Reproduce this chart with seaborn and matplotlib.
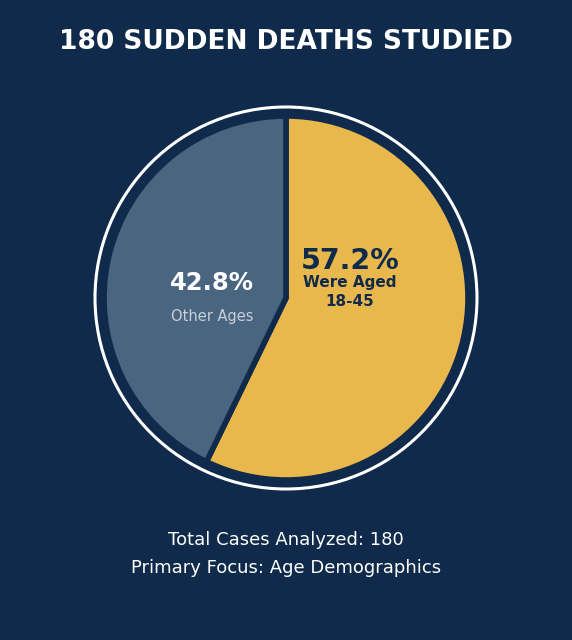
import matplotlib
matplotlib.use("Agg")
import matplotlib.pyplot as plt
import seaborn as sns
from matplotlib.patches import Circle

sns.set_theme(style="white")
plt.rcParams['font.family'] = ['DejaVu Sans']

labels = ["Were Aged 18-45", "Other Ages"]
shares = [57.2, 42.8]
colors = ["#e8b84c", "#4a6580"]
bg = "#0f2a4a"

fig = plt.figure(figsize=(5.72, 6.4), dpi=100, facecolor=bg)
ax = fig.add_axes([0, 0, 1, 1])
ax.set_facecolor(bg)

ax.add_patch(Circle((286, 298), 191, fill=False, ec="white", lw=2.2))
# y axis is inverted below, so counterclock=True draws clockwise on screen
ax.pie(shares, colors=colors, startangle=-90, counterclock=True,
       center=(286, 298), radius=182,
       wedgeprops=dict(edgecolor=bg, linewidth=4))
ax.set_xlim(0, 572)
ax.set_ylim(640, 0)
ax.set_aspect("equal")
ax.axis("off")

ax.text(286, 42, "180 SUDDEN DEATHS STUDIED", color="white", fontsize=19,
        fontweight="bold", ha="center", va="center")
ax.text(350, 261, f"{shares[0]}%", color=bg, fontsize=20.5, fontweight="bold",
        ha="center", va="center")
ax.text(350, 282, "Were Aged", color=bg, fontsize=11, fontweight="bold",
        ha="center", va="center")
ax.text(350, 302, "18-45", color=bg, fontsize=11, fontweight="bold",
        ha="center", va="center")
ax.text(212, 283, f"{shares[1]}%", color="white", fontsize=17.5, fontweight="bold",
        ha="center", va="center")
ax.text(212, 316, "Other Ages", color="#c8d0da", fontsize=10.5,
        ha="center", va="center")
ax.text(286, 540, "Total Cases Analyzed: 180", color="white", fontsize=13,
        ha="center", va="center")
ax.text(286, 568, "Primary Focus: Age Demographics", color="white", fontsize=13,
        ha="center", va="center")

fig.savefig("out.png", dpi=100, facecolor=bg)
